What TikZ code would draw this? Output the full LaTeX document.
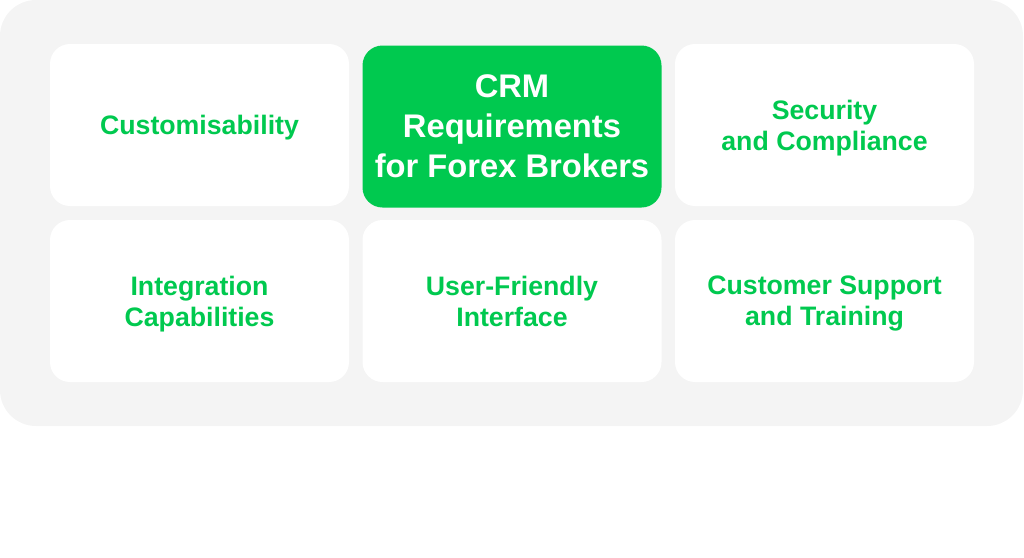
\documentclass[tikz,border=0pt]{standalone}
\usepackage{fontspec}
\setmainfont{Liberation Sans}
\definecolor{bggray}{HTML}{F4F4F4}
\definecolor{crmgreen}{HTML}{00C94F}
\tikzset{
  card/.style={draw=none, fill=white, rounded corners=20pt, minimum width=299pt, minimum height=162pt, inner sep=0pt, text depth=0pt, align=center, text=crmgreen, font=\bfseries\fontsize{26.7}{31}\selectfont},
  hub/.style={card, fill=crmgreen, text=white, font=\bfseries\fontsize{32.7}{40}\selectfont}
}
\begin{document}
\begin{tikzpicture}[x=1pt,y=-1pt]
\useasboundingbox (0,0) rectangle (1024,557);
\fill[bggray, rounded corners=36pt] (0,0) rectangle (1023,426);
\node[card] (custom) at (199.5,125) {Customisability};
\node[hub] (crm) at (512,126.5) {CRM\\Requirements\\for Forex Brokers};
\node[card] (security) at (824.5,125) {Security\\and Compliance};
\node[card] (integration) at (199.5,301) {Integration\\Capabilities};
\node[card] (ui) at (512,301) {User-Friendly\\Interface};
\node[card] (support) at (824.5,301) {Customer Support\\and Training};
\end{tikzpicture}
\end{document}
